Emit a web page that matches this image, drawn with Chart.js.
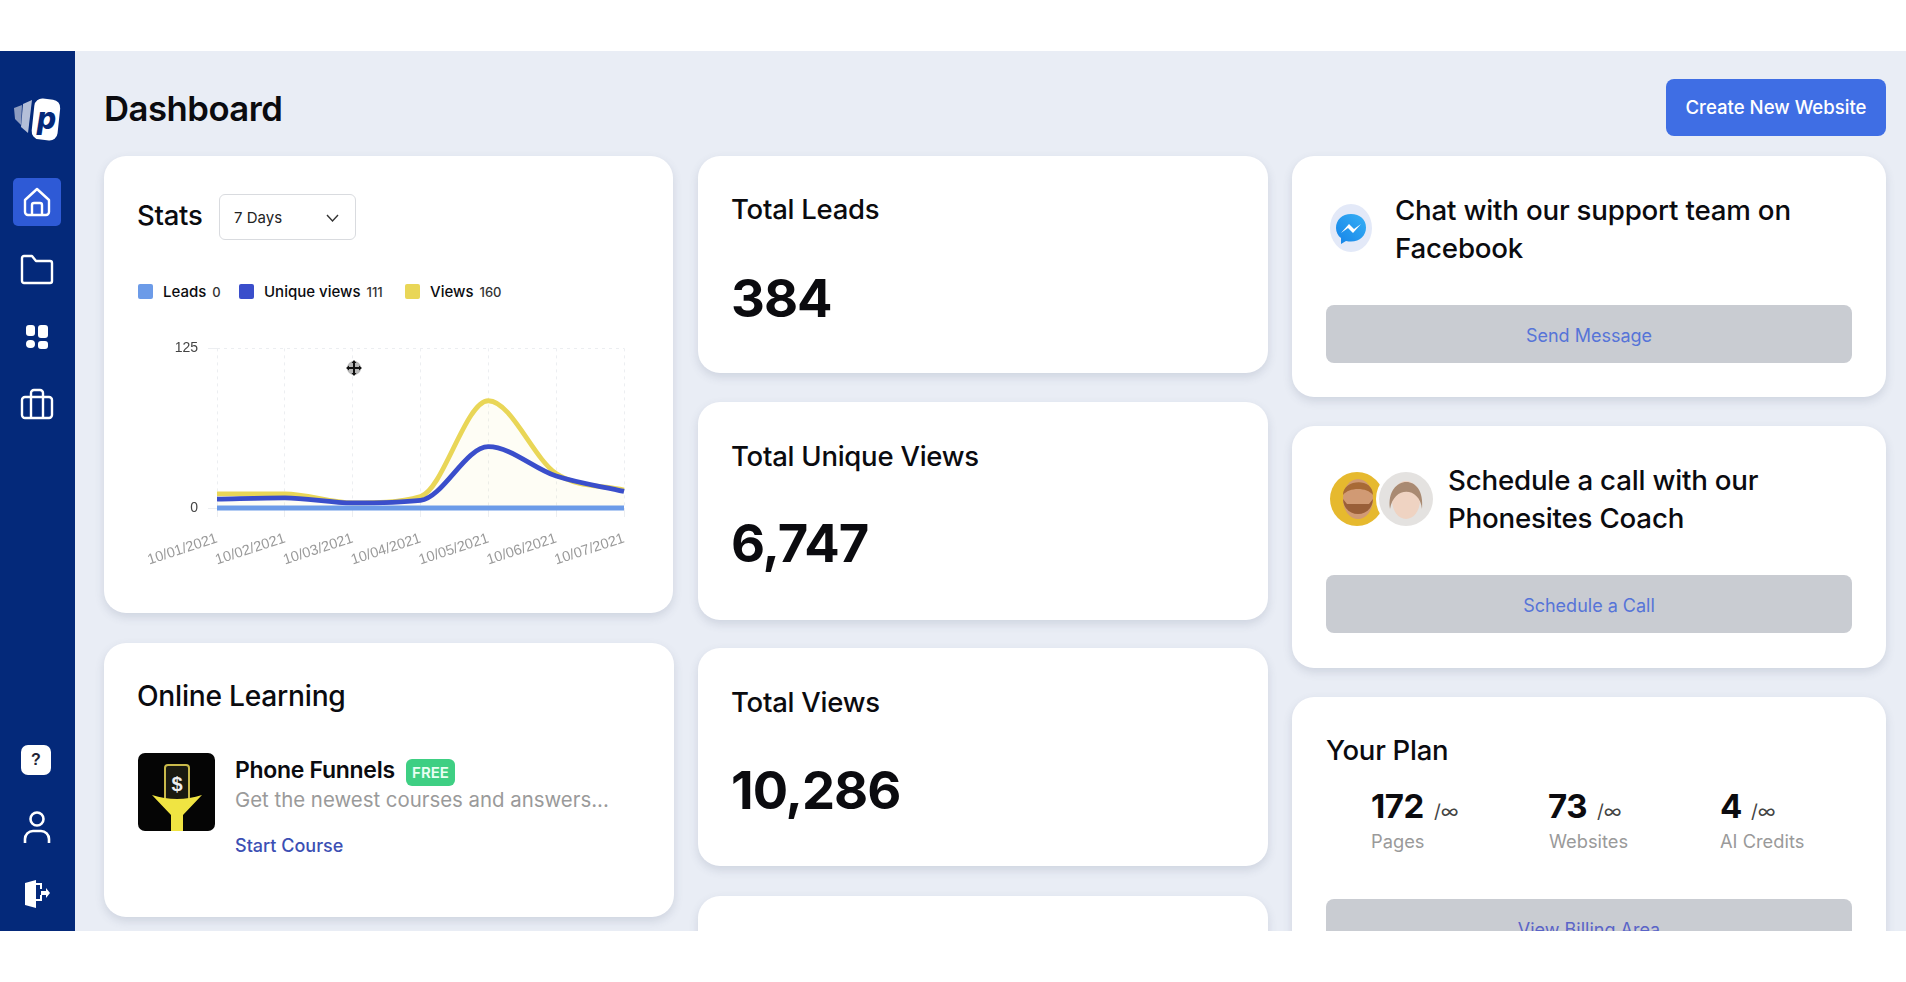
<!DOCTYPE html>
<html>
<head>
<meta charset="utf-8">
<title>Dashboard</title>
<script src="https://cdn.jsdelivr.net/npm/chart.js@4"></script>
<style>
html, body { margin: 0; padding: 0; background: #fff; overflow: hidden; }
body { width: 1906px; height: 982px; font-family: Inter, "Noto Sans", sans-serif; color: #0b0b0f; }
#page { position: absolute; left: 0; top: 0; width: 1906px; height: 982px; background: #e9edf5; clip-path: inset(51px 0 51px 0); }
#side { position: absolute; left: 0; top: 0; width: 75px; height: 982px; background: #04297a; }
.card { position: absolute; background: #fff; border-radius: 22px; box-shadow: 0 4px 10px rgba(70, 80, 110, .16); }
.t { position: absolute; transform: translateY(-50%); white-space: nowrap; }
.h { font-size: 27.5px; font-weight: 500; letter-spacing: -.25px; }
.big { font-size: 52.5px; font-weight: 700; letter-spacing: -1px; }
.grey { position: absolute; left: 1326px; width: 526px; height: 58px; background: #c9ccd2; border-radius: 8px; }
.link { position: absolute; left: 1326px; width: 526px; text-align: center; transform: translateY(-50%); font-size: 18px; color: #5674d8; }
.sw { position: absolute; width: 15px; height: 15px; top: 284px; border-radius: 2px; }
.lg { position: absolute; top: 291px; transform: translateY(-50%); font-size: 15px; font-weight: 500; white-space: nowrap; }
.lg small { font-size: 13px; font-weight: 500; margin-left: 6px; color: #333; }
.num { font-size: 33px; font-weight: 700; letter-spacing: -.5px; }
.inf { font-size: 19px; color: #444; }
.sub { font-size: 18.3px; color: #9a9a9a; }
.say { font-size: 27.7px; font-weight: 500; letter-spacing: -.2px; }
svg { position: absolute; }
#chart { position: absolute; left: 130px; top: 330px; }
</style>
</head>
<body>
<div id="page">
  <div id="side"></div>

  <!-- sidebar icons -->
  <svg style="left:10px;top:94px" width="54" height="52" viewBox="0 0 54 52">
    <path d="M4 14l8-3-1 20-6-6z" fill="#8d9cc0"/>
    <path d="M13 10l9-4-4 33-7-6z" fill="#b4bfd8"/>
    <rect x="23" y="5" width="26" height="41" rx="8" fill="#fff" transform="rotate(6 36 25)"/>
    <text x="27" y="35" font-family="Inter" font-weight="800" font-style="italic" font-size="30" fill="#04297a">p</text>
  </svg>
  <div style="position:absolute;left:13px;top:178px;width:48px;height:48px;background:#2e5ad6;border-radius:5px"></div>
  <svg style="left:21px;top:186px" width="32" height="32" viewBox="0 0 32 32" fill="none" stroke="#fff" stroke-width="2.4" stroke-linejoin="round">
    <path d="M4 14L16 3l12 11v12a3 3 0 0 1-3 3H7a3 3 0 0 1-3-3z"/><path d="M11 29V19a2 2 0 0 1 2-2h6a2 2 0 0 1 2 2v10"/>
  </svg>
  <svg style="left:20px;top:254px" width="34" height="32" viewBox="0 0 34 32" fill="none" stroke="#fff" stroke-width="2.4" stroke-linejoin="round">
    <path d="M2 4a2 2 0 0 1 2-2h8l4 5h14a2 2 0 0 1 2 2v18a2 2 0 0 1-2 2H4a2 2 0 0 1-2-2z"/>
  </svg>
  <svg style="left:25px;top:325px" width="24" height="24" viewBox="0 0 24 24" fill="#fff">
    <rect x="1" y="0" width="9" height="11" rx="3"/><rect x="13" y="0" width="10" height="13" rx="3"/>
    <rect x="1" y="15" width="9" height="8" rx="4"/><rect x="13" y="16" width="10" height="8" rx="3"/>
  </svg>
  <svg style="left:20px;top:388px" width="34" height="32" viewBox="0 0 34 32" fill="none" stroke="#fff" stroke-width="2.4" stroke-linejoin="round">
    <rect x="2" y="9" width="30" height="21" rx="3"/><path d="M11 30V5a3 3 0 0 1 3-3h6a3 3 0 0 1 3 3v25"/>
  </svg>
  <div style="position:absolute;left:21px;top:745px;width:30px;height:30px;background:#fff;border-radius:7px;text-align:center;font:700 16px/30px 'Liberation Sans';color:#223">?</div>
  <svg style="left:23px;top:810px" width="28" height="34" viewBox="0 0 28 34" fill="none" stroke="#fff" stroke-width="2.6">
    <circle cx="14" cy="9" r="6.5"/><path d="M2 33v-4a8 8 0 0 1 8-8h8a8 8 0 0 1 8 8v4"/>
  </svg>
  <svg style="left:24px;top:880px" width="26" height="28" viewBox="0 0 26 28" fill="#fff">
    <path d="M1 3l11-3v28L1 25z"/><path d="M12 3h6v6h-2V5h-4zM12 19h4v-4h2v6h-6z"/><path d="M17 11h5V8l4 5-4 5v-3h-5z"/>
  </svg>

  <div class="t" style="left:104px;top:108px;font-size:34.7px;font-weight:600;letter-spacing:-.5px">Dashboard</div>
  <div style="position:absolute;left:1666px;top:79px;width:220px;height:57px;background:#3f6ee4;border-radius:8px;color:#fff;text-align:center;font-size:18.6px;font-weight:500;line-height:57px">Create New Website</div>

  <!-- stats card -->
  <div class="card" style="left:104px;top:156px;width:569px;height:457px"></div>
  <div class="t h" style="left:137px;top:215px">Stats</div>
  <div style="position:absolute;left:219px;top:194px;width:135px;height:44px;border:1px solid #d9dbdf;border-radius:6px"></div>
  <div class="t" style="left:234px;top:217px;font-size:15px;color:#222">7 Days</div>
  <svg style="left:326px;top:214px" width="13" height="9" viewBox="0 0 13 9" fill="none" stroke="#333" stroke-width="1.4"><path d="M1 1l5.5 6L12 1"/></svg>
  <div id="legend"></div>
  <canvas id="chart" width="520" height="260"></canvas>
  <svg style="left:344px;top:358px" width="20" height="20" viewBox="0 0 20 20">
    <circle cx="10" cy="10" r="7" fill="#b8b8b8"/>
    <path d="M10 2l2.5 3H11v4h4V7.500l3 2.500-3 2.500V11h-4v4h1.500L10 18l-2.500-3H9v-4H5v1.500L2 10l3-2.500V9h4V5H7.500z" fill="#111"/>
  </svg>

  <!-- online learning -->
  <div class="card" style="left:104px;top:643px;width:570px;height:274px"></div>
  <div class="t h" style="left:137px;top:696px;font-size:28.2px">Online Learning</div>
  <svg style="left:138px;top:753px" width="77" height="78" viewBox="0 0 77 78">
    <rect width="77" height="78" rx="7" fill="#050505"/>
    <rect x="27" y="12" width="24" height="36" rx="3" fill="#1a1a10" stroke="#c9b94a" stroke-width="2"/>
    <text x="39" y="38" text-anchor="middle" font-family="Liberation Sans" font-weight="700" font-size="20" fill="#eee">$</text>
    <path d="M14 42q25 8 50 0L45 62v16H33V62z" fill="#f0e442"/>
  </svg>
  <div class="t" style="left:235px;top:770px;font-size:23px;font-weight:600;letter-spacing:-.3px">Phone Funnels</div>
  <div style="position:absolute;left:406px;top:759px;width:49px;height:27px;background:#3ecf83;border-radius:6px;color:#e9fff3;font-size:15px;font-weight:600;text-align:center;line-height:27px">FREE</div>
  <div class="t" style="left:235px;top:799px;font-size:20.4px;color:#9a9a9a">Get the newest courses and answers...</div>
  <div class="t" style="left:235px;top:845px;font-size:18px;font-weight:500;color:#3c4fb4">Start Course</div>

  <!-- totals -->
  <div class="card" style="left:698px;top:156px;width:570px;height:217px"></div>
  <div class="t h" style="left:731px;top:209px">Total Leads</div>
  <div class="t big" id="totalLeads" style="left:731px;top:298px"></div>
  <div class="card" style="left:698px;top:402px;width:570px;height:218px"></div>
  <div class="t h" style="left:731px;top:456px">Total Unique Views</div>
  <div class="t big" id="totalUnique" style="left:731px;top:543px"></div>
  <div class="card" style="left:698px;top:648px;width:570px;height:218px"></div>
  <div class="t h" style="left:731px;top:702px">Total Views</div>
  <div class="t big" id="totalViews" style="left:731px;top:790px"></div>
  <div class="card" style="left:698px;top:896px;width:570px;height:218px"></div>

  <!-- support cards -->
  <div class="card" style="left:1292px;top:156px;width:594px;height:241px"></div>
  <svg style="left:1330px;top:204px" width="42" height="48" viewBox="0 0 42 48">
    <defs><linearGradient id="ms" x1="0" y1="1" x2="1" y2="0"><stop offset="0" stop-color="#1583e8"/><stop offset="1" stop-color="#37b0f5"/></linearGradient></defs>
    <ellipse cx="21" cy="24" rx="21" ry="24" fill="#e3e9f8"/>
    <path d="M21 10c-9 0-15 6-15 14 0 4 2 8 5 10v6l5-3c2 .5 3 .5 5 .5 9 0 15-6 15-14S30 10 21 10z" fill="url(#ms)"/>
    <path d="M11 29l8-9 5 5 7-5-8 9-5-5z" fill="#fff"/>
  </svg>
  <div class="t say" style="left:1395px;top:210px">Chat with our support team on</div>
  <div class="t say" style="left:1395px;top:248px">Facebook</div>
  <div class="grey" style="top:305px"></div>
  <div class="link" style="top:335px">Send Message</div>

  <div class="card" style="left:1292px;top:426px;width:594px;height:242px"></div>
  <svg style="left:1330px;top:471px" width="104" height="56" viewBox="0 0 104 56">
    <circle cx="27" cy="28" r="27" fill="#e6b92e"/>
    <ellipse cx="28" cy="28" rx="15" ry="20" fill="#d19a74"/>
    <path d="M13 28c1 20 29 20 30 0l-4 5H17z" fill="#9a5f38"/>
    <path d="M13 24c0-16 30-18 30 0-6-8-24-8-30 0z" fill="#a86a36"/>
    <circle cx="76" cy="28" r="30" fill="#fff"/>
    <circle cx="76" cy="28" r="27" fill="#e4e2e0"/>
    <ellipse cx="76" cy="29" rx="14" ry="19" fill="#efd3c2"/>
    <path d="M60 38c-5-34 36-38 32 0-2-22-28-24-32 0z" fill="#a98a72"/>
  </svg>
  <div class="t say" style="left:1448px;top:480px">Schedule a call with our</div>
  <div class="t say" style="left:1448px;top:518px">Phonesites Coach</div>
  <div class="grey" style="top:575px"></div>
  <div class="link" style="top:605px">Schedule a Call</div>

  <!-- plan -->
  <div class="card" style="left:1292px;top:697px;width:594px;height:300px"></div>
  <div class="t h" style="left:1326px;top:750px">Your Plan</div>
  <div class="t num" style="left:1371px;top:806px">172</div>
  <div class="t inf" style="left:1434px;top:811px">/∞</div>
  <div class="t sub" style="left:1371px;top:841px">Pages</div>
  <div class="t num" style="left:1548px;top:806px">73</div>
  <div class="t inf" style="left:1597px;top:811px">/∞</div>
  <div class="t sub" style="left:1549px;top:841px">Websites</div>
  <div class="t num" style="left:1720px;top:806px">4</div>
  <div class="t inf" style="left:1751px;top:811px">/∞</div>
  <div class="t sub" style="left:1720px;top:841px">AI Credits</div>
  <div class="grey" style="top:899px"></div>
  <div class="link" style="top:929px;color:#5a64c8">View Billing Area</div>
</div>

<script>
var categories = ['10/01/2021', '10/02/2021', '10/03/2021', '10/04/2021', '10/05/2021', '10/06/2021', '10/07/2021'];
var leadsValues = [0, 0, 0, 0, 0, 0, 0];
var uniqueValues = [7, 8, 4, 6, 48, 25, 13];
var viewsValues = [11, 11, 4, 9, 84, 27, 14];
var yTicks = [0, 125];
var seriesNames = ['Leads', 'Unique views', 'Views'];
var seriesTotals = [0, 111, 160];
var seriesColors = ['#6c9be8', '#3a4ecb', '#e9d657'];
var legendLeft = [138, 239, 405];
var totals = { totalLeads: '384', totalUnique: '6,747', totalViews: '10,286' };

// legend is plain html, the value is smaller than the name
var legendBox = document.getElementById('legend');
seriesNames.forEach(function (name, i) {
    legendBox.innerHTML += '<div class="sw" style="left:' + legendLeft[i] + 'px;background:' + seriesColors[i] + '"></div>' +
        '<div class="lg" style="left:' + (legendLeft[i] + 25) + 'px">' + name + '<small>' + seriesTotals[i] + '</small></div>';
});

Object.keys(totals).forEach(function (id) {
    document.getElementById(id).textContent = totals[id];
});

function line(name, values, color) {
    return {
        label: name,
        data: values,
        borderColor: color,
        borderWidth: 4.8,
        pointRadius: 0,
        cubicInterpolationMode: 'monotone',
        clip: false,
        fill: false
    };
}

var viewsLine = line(seriesNames[2], viewsValues, seriesColors[2]);
viewsLine.fill = 'origin';
viewsLine.backgroundColor = 'rgba(233, 214, 87, 0.06)';

new Chart(document.getElementById('chart'), {
    type: 'line',
    data: {
        labels: categories,
        datasets: [
            line(seriesNames[0], leadsValues, seriesColors[0]),
            line(seriesNames[1], uniqueValues, seriesColors[1]),
            viewsLine
        ]
    },
    options: {
        responsive: false,
        animation: false,
        layout: { padding: { top: 15, right: 26 } },
        plugins: { legend: { display: false }, tooltip: { enabled: false } },
        scales: {
            x: {
                afterFit: function (scale) { scale.height = 82; },
                grid: { color: '#eceef1', tickLength: 9 },
                border: { dash: [3, 4], display: false },
                ticks: {
                    autoSkip: false,
                    minRotation: 18,
                    maxRotation: 18,
                    padding: 13,
                    color: '#9a9a9a',
                    font: { family: 'Liberation Sans', size: 14.500 }
                }
            },
            y: {
                min: 0,
                max: 125,
                afterFit: function (scale) { scale.width = 87; },
                afterBuildTicks: function (scale) {
                    scale.ticks = yTicks.map(function (v) { return { value: v }; });
                },
                grid: { color: '#eceef1', tickLength: 9 },
                border: { dash: [3, 4], display: false },
                ticks: {
                    padding: 10,
                    color: '#444',
                    font: { family: 'Liberation Sans', size: 14 }
                }
            }
        }
    }
});
</script>
</body>
</html>
